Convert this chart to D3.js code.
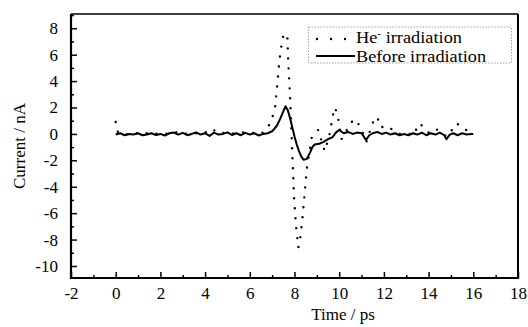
<!DOCTYPE html>
<html>
<head>
<meta charset="utf-8">
<script src="https://cdn.jsdelivr.net/npm/d3@7"></script>
<style>
  body { margin: 0; background: #fff; }
  svg { display: block; }
  svg text { font-family: "Liberation Serif", "Times New Roman", serif !important; fill: #000; }
</style>
</head>
<body>
<div id="chart"></div>
<script>
// ---- data ----
const beforeTime = [0.0,0.2,0.4,0.6,0.8,1.0,1.2,1.4,1.6,1.8,2.0,2.2,2.4,2.6,2.8,3.0,3.2,3.4,3.6,3.8,
  4.0,4.2,4.4,4.6,4.8,5.0,5.2,5.4,5.6,5.8,6.0,6.2,6.4,6.6,6.8,7.0,7.2,7.35,7.5,7.6,7.7,7.8,7.9,8.0,
  8.1,8.2,8.3,8.4,8.55,8.7,8.8,8.9,9.1,9.3,9.5,9.7,9.85,10.0,10.2,10.4,10.6,10.8,11.0,11.2,11.35,
  11.5,11.7,11.9,12.1,12.3,12.5,12.7,12.9,13.1,13.3,13.5,13.7,13.9,14.1,14.3,14.5,14.7,14.8,14.95,
  15.1,15.3,15.5,15.7,15.9,16.0];
const beforeCurrent = [-0.05,0.05,-0.1,0.0,-0.05,0.05,-0.1,-0.05,0.05,-0.08,0.0,-0.12,0.05,0.1,-0.05,
  0.08,-0.1,0.0,0.12,-0.05,0.05,-0.15,0.1,-0.05,0.0,0.12,-0.08,0.05,-0.1,0.08,-0.05,0.05,-0.12,0.0,
  0.05,0.2,0.6,1.1,1.7,2.1,1.8,1.2,0.5,-0.2,-0.8,-1.3,-1.7,-1.95,-1.9,-1.4,-1.0,-0.8,-0.75,-0.6,-0.4,
  -0.25,0.1,0.3,0.05,0.15,0.0,0.1,0.05,-0.45,-0.1,0.05,0.15,0.0,0.1,-0.05,0.05,-0.1,0.0,-0.1,0.05,
  -0.05,0.1,-0.1,0.05,-0.05,0.1,-0.1,-0.4,-0.05,0.05,-0.1,0.05,-0.05,0.0,0.0];

const heTime = [0.0,0.1,0.4,0.8,1.2,1.6,2.0,2.4,2.8,3.2,3.6,4.0,4.3,4.6,5.0,5.4,5.8,6.2,6.5,6.8,7.0,
  7.13,7.2,7.3,7.38,7.47,7.58,7.68,7.72,7.8,7.89,7.98,8.07,8.17,8.25,8.35,8.45,8.55,8.77,9.06,9.35,
  9.55,9.75,9.82,9.95,10.1,10.35,10.55,10.75,11.0,11.22,11.5,11.7,11.85,12.15,12.4,12.7,13.0,13.3,
  13.6,13.75,14.0,14.3,14.6,14.8,15.0,15.25,15.5,15.75,15.95];
const heCurrent = [0.9,0.1,-0.05,0.05,0.0,0.1,-0.05,0.05,0.15,0.0,0.05,0.1,0.4,0.05,0.1,0.0,0.15,0.05,
  0.0,0.45,1.2,2.0,3.2,5.1,6.3,7.3,7.6,7.5,5.4,2.9,-1.0,-4.8,-7.0,-8.6,-8.0,-6.5,-4.6,-2.65,-0.3,0.3,
  -1.3,-0.2,1.7,2.0,1.2,-0.4,0.3,0.9,1.1,0.3,-0.6,0.85,1.3,0.5,0.6,0.3,0.0,0.1,-0.1,0.8,0.55,0.1,0.4,
  0.1,-0.2,0.2,0.8,0.55,0.2,0.0];

const xTicks = [-2,0,2,4,6,8,10,12,14,16,18];
const xMinor = [-1,1,3,5,7,9,11,13,15,17];
const yTicks = [-10,-8,-6,-4,-2,0,2,4,6,8];
const yMinor = [-9,-7,-5,-3,-1,1,3,5,7,9];

const W = 528, H = 327;
const pLeft = 71, pRight = 518, pTop = 14, pBottom = 278;

const x = d3.scaleLinear().domain([-2, 18]).range([pLeft, pRight]);
const y = d3.scaleLinear().domain([-10.91, 9.08]).range([pBottom, pTop]);

const svg = d3.select("#chart").append("svg")
  .attr("width", W).attr("height", H);

const fmt = d => String(d);   // plain hyphen minus, as in the figure

// minor ticks
svg.append("g").attr("transform", `translate(0,${pBottom})`)
  .call(d3.axisBottom(x).tickValues(xMinor).tickSize(-3).tickFormat(""))
  .call(g => g.select(".domain").remove())
  .call(g => g.selectAll("line").attr("stroke-width", 1.5));
svg.append("g").attr("transform", `translate(${pLeft},0)`)
  .call(d3.axisLeft(y).tickValues(yMinor).tickSize(-3).tickFormat(""))
  .call(g => g.select(".domain").remove())
  .call(g => g.selectAll("line").attr("stroke-width", 1.5));

// major ticks with labels
svg.append("g").attr("transform", `translate(0,${pBottom})`)
  .call(d3.axisBottom(x).tickValues(xTicks).tickSize(-6).tickPadding(9).tickFormat(fmt))
  .call(g => g.select(".domain").remove())
  .call(g => g.selectAll("line").attr("stroke-width", 1.5))
  .call(g => g.selectAll("text").attr("font-size", 17));
svg.append("g").attr("transform", `translate(${pLeft},0)`)
  .call(d3.axisLeft(y).tickValues(yTicks).tickSize(-6).tickPadding(13).tickFormat(fmt))
  .call(g => g.select(".domain").remove())
  .call(g => g.selectAll("line").attr("stroke-width", 1.5))
  .call(g => g.selectAll("text").attr("font-size", 17));

// frame
svg.append("line").attr("x1", pLeft).attr("x2", pRight).attr("y1", pTop).attr("y2", pTop)
  .attr("stroke", "#000").attr("stroke-width", 1.3);
svg.append("line").attr("x1", pRight).attr("x2", pRight).attr("y1", pTop).attr("y2", pBottom)
  .attr("stroke", "#000").attr("stroke-width", 2);
svg.append("line").attr("x1", pLeft).attr("x2", pLeft).attr("y1", pTop).attr("y2", pBottom + 1)
  .attr("stroke", "#000").attr("stroke-width", 2.2);
svg.append("line").attr("x1", pLeft - 1).attr("x2", pRight + 1).attr("y1", pBottom).attr("y2", pBottom)
  .attr("stroke", "#000").attr("stroke-width", 2.2);

// series
const line = d3.line().x(d => x(d[0])).y(d => y(d[1]));
const beforeData = beforeTime.map((t, i) => [t, beforeCurrent[i]]);
const heData = heTime.map((t, i) => [t, heCurrent[i]]);

svg.append("path").datum(heData)
  .attr("d", line).attr("fill", "none").attr("stroke", "#000")
  .attr("stroke-width", 2.4).attr("stroke-linecap", "round")
  .attr("stroke-dasharray", "0,10");

svg.append("path").datum(beforeData)
  .attr("d", line).attr("fill", "none").attr("stroke", "#000")
  .attr("stroke-width", 2).attr("stroke-linejoin", "round");

// legend
const lg = svg.append("g");
lg.append("rect").attr("x", 308.5).attr("y", 27).attr("width", 203).attr("height", 36)
  .attr("fill", "none").attr("stroke", "#888").attr("stroke-width", 0.8)
  .attr("stroke-dasharray", "1.5,1.5");
lg.append("line").attr("x1", 317).attr("x2", 352).attr("y1", 39).attr("y2", 39)
  .attr("stroke", "#000").attr("stroke-width", 2.4).attr("stroke-linecap", "round")
  .attr("stroke-dasharray", "0,14");
lg.append("line").attr("x1", 316).attr("x2", 355).attr("y1", 56).attr("y2", 56)
  .attr("stroke", "#000").attr("stroke-width", 2);
const t1 = lg.append("text").attr("x", 356).attr("y", 43).attr("font-size", 16.5)
  .attr("textLength", 106).attr("lengthAdjust", "spacingAndGlyphs");
t1.append("tspan").text("He");
t1.append("tspan").attr("font-size", 10).attr("dy", -6).text("-");
t1.append("tspan").attr("dy", 6).text(" irradiation");
lg.append("text").attr("x", 356).attr("y", 61.5).attr("font-size", 16.5)
  .attr("textLength", 130).attr("lengthAdjust", "spacingAndGlyphs")
  .text("Before irradiation");

// axis titles
svg.append("text").attr("x", 343).attr("y", 320).attr("text-anchor", "middle")
  .attr("font-size", 17).text("Time / ps");
svg.append("text").attr("transform", `translate(25,${(pTop + pBottom) / 2}) rotate(-90)`)
  .attr("text-anchor", "middle").attr("font-size", 17).text("Current / nA");
</script>
</body>
</html>
